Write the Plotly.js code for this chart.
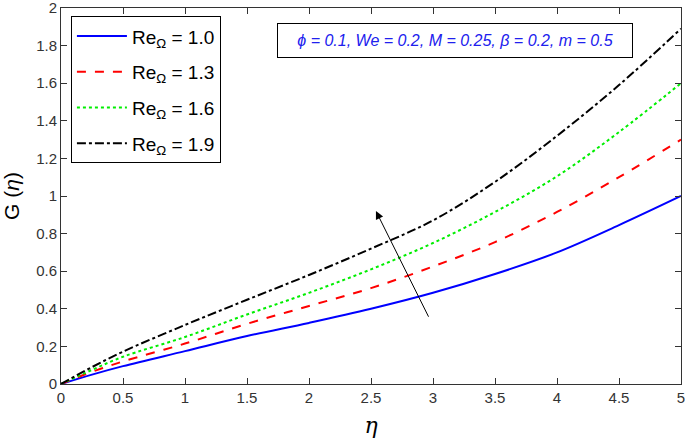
<!DOCTYPE html>
<html>
<head>
<meta charset="utf-8">
<script src="https://cdn.plot.ly/plotly-3.0.1.min.js"></script>
<style>html,body{margin:0;padding:0;background:#fff;}#chart{width:685px;height:439px;}</style>
</head>
<body>
<div id="chart"></div>
<script>
// Data
const eta  = [0, 0.25, 0.5, 1, 1.5, 2, 2.5, 3, 3.5, 4, 4.5, 5];
const re10 = [0, 0.05, 0.095, 0.175, 0.255, 0.325, 0.40, 0.485, 0.585, 0.70, 0.845, 1.0];
const re13 = [0, 0.065, 0.12, 0.215, 0.32, 0.415, 0.51, 0.625, 0.755, 0.915, 1.10, 1.30];
const re16 = [0, 0.075, 0.145, 0.25, 0.37, 0.485, 0.61, 0.75, 0.915, 1.105, 1.34, 1.60];
const re19 = [0, 0.09, 0.172, 0.314, 0.448, 0.58, 0.72, 0.87, 1.075, 1.32, 1.59, 1.89];
const seriesNames = ["Re<sub>Ω</sub> = 1.0", "Re<sub>Ω</sub> = 1.3", "Re<sub>Ω</sub> = 1.6", "Re<sub>Ω</sub> = 1.9"];
const paramText = "ϕ = 0.1, We = 0.2, M = 0.25, β = 0.2, m = 0.5";
const arrowTail = [2.97, 0.35];
const arrowHead = [2.54, 0.92];

const FONT = "Liberation Sans, Arial, sans-serif";
const styles = [
  {color: "#0000ff", dash: "solid"},
  {color: "#ff0000", dash: "dash"},
  {color: "#00ee00", dash: "dot"},
  {color: "#000000", dash: "dashdot"}
];
const ys = [re10, re13, re16, re19];
const traces = ys.map((y, i) => ({
  x: eta, y: y, type: "scatter", mode: "lines", name: seriesNames[i],
  legendgroup: "g" + i,
  line: {color: styles[i].color, dash: styles[i].dash, width: 2, shape: "spline", smoothing: 1}
}));

const axisCommon = {
  showline: true, mirror: "ticks", linecolor: "#333", linewidth: 1,
  ticks: "inside", ticklen: 6, tickcolor: "#333", showgrid: false, zeroline: false,
  ticklabeloverflow: "allow",
  tickfont: {family: FONT, size: 15, color: "#333"}
};

const layout = {
  width: 685, height: 439,
  margin: {l: 61, r: 4, t: 8, b: 55},
  paper_bgcolor: "#fff", plot_bgcolor: "#fff",
  showlegend: true,
  legend: {
    x: 0.016, y: 0.978, xanchor: "left", yanchor: "top",
    bgcolor: "#fff", bordercolor: "#000", borderwidth: 1,
    font: {family: FONT, size: 19, color: "#000"},
    tracegroupgap: 8, itemwidth: 50
  },
  xaxis: Object.assign({}, axisCommon, {
    range: [0, 5], dtick: 0.5, tick0: 0,
    title: {text: "<i>η</i>", font: {family: "DejaVu Serif, serif", size: 22, color: "#000"}, standoff: 12}
  }),
  yaxis: Object.assign({}, axisCommon, {
    range: [0, 2], dtick: 0.2, tick0: 0,
    title: {text: "G (<i>η</i>)", font: {family: FONT, size: 21, color: "#000"}, standoff: 12}
  }),
  annotations: [
    {
      xref: "paper", yref: "paper", x: 0.635, y: 0.9136, xanchor: "center", yanchor: "middle",
      text: "<i>" + paramText + "</i>", showarrow: false,
      font: {family: FONT, size: 16, color: "#2020ee"},
      bordercolor: "#000", borderwidth: 1, bgcolor: "#fff", width: 352, height: 31, borderpad: 1
    },
    {
      xref: "x", yref: "y", axref: "x", ayref: "y",
      x: arrowHead[0], y: arrowHead[1], ax: arrowTail[0], ay: arrowTail[1],
      text: "", showarrow: true, arrowhead: 2, arrowsize: 1.6, arrowwidth: 1, arrowcolor: "#000"
    }
  ]
};

Plotly.newPlot("chart", traces, layout, {displayModeBar: false, staticPlot: true});
</script>
</body>
</html>
